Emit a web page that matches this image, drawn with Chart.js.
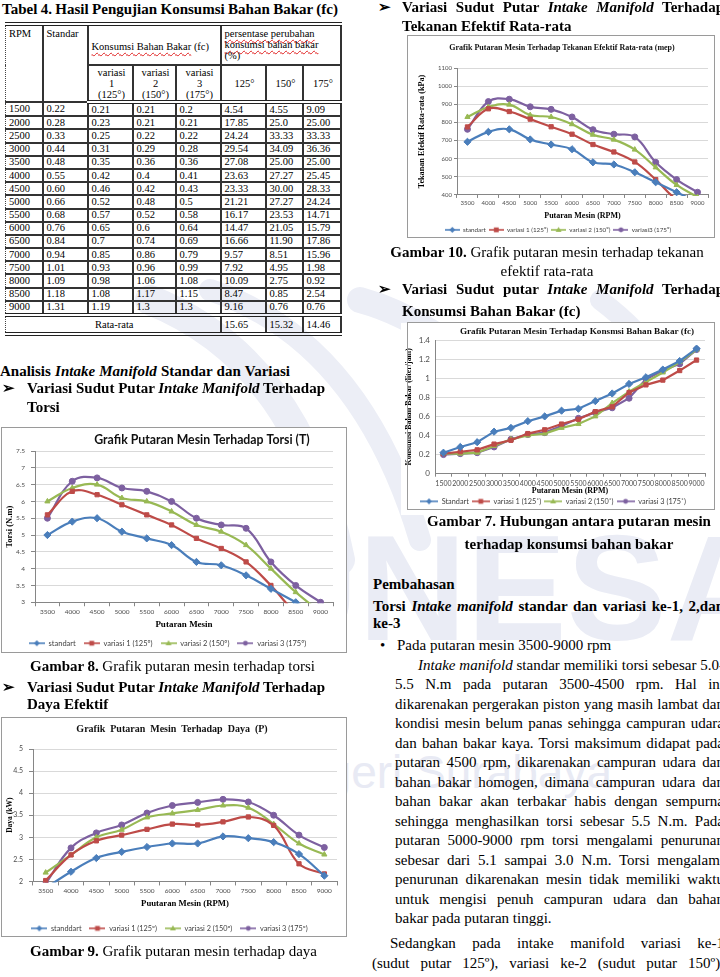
<!DOCTYPE html>
<html>
<head>
<meta charset="utf-8">
<script src="https://cdn.jsdelivr.net/npm/chart.js@4/dist/chart.umd.min.js"></script>
<style>
  html, body { margin: 0; padding: 0; background: #fff; }
  #page { position: relative; width: 720px; height: 977px; overflow: hidden; font-family: "Liberation Serif", "Times New Roman", serif; color: #000; }
  .t { position: absolute; white-space: nowrap; font-size: 15px; line-height: 18px; z-index: 4; }
  .b { font-weight: bold; }
  .c { text-align: center; }
  .wrap { position: absolute; z-index: 2; }
  .wrap canvas { position: absolute; background: #fff; }
  .box { position: absolute; border: 1px solid #9a9a9a; box-sizing: border-box; z-index: 3; pointer-events: none; }
  #wm { position: absolute; left: 0; top: 0; z-index: 0; }
  #tbl { position: absolute; left: 5px; top: 22px; z-index: 4; border-collapse: collapse; table-layout: fixed; font-family: "Liberation Serif", "Times New Roman", serif; font-size: 10.5px; line-height: 11px; color: #000; border-top: 4px double #222; border-bottom: 4px double #222; border-left: 1px dotted #444; }
  #tbl td { border: 2px solid #333; padding: 0 0 0 3px; white-space: nowrap; overflow: hidden; vertical-align: middle; }
  #tbl td:first-child { border-left: 1px dotted #444; }
  #tbl tr.h1 td { height: 36px; vertical-align: top; padding-top: 2px; }
  #tbl tr.h1 td.mid { vertical-align: middle; }
  #tbl tr.h2 td { height: 34px; text-align: center; border-bottom: 4px double #222; }
  #tbl tr.d td { height: 11.2px; line-height: 10px; }
  #tbl tr.avg td { height: 15px; border-top: 4px double #222; }
  #tbl td.cc { text-align: center; }
  .sp { text-decoration: underline wavy #e02020; text-decoration-thickness: 1px; text-underline-offset: 2px; }
</style>
</head>
<body>
<div id="page">
  <svg id="wm" width="720" height="977">
    <g fill="none" stroke="#eceef6" stroke-linecap="round">
      <path d="M150 300 Q 300 360 340 560" stroke-width="30"/>
      <path d="M210 290 Q 360 340 420 540" stroke-width="22"/>
      <path d="M360 300 Q 470 330 560 470" stroke-width="26"/>
      <path d="M600 300 Q 680 360 700 450" stroke-width="20"/>
    </g>
    <text x="250" y="640" font-family="Liberation Sans, sans-serif" font-weight="bold" font-size="150" fill="#eaecf5">UNESA</text>
    <text x="612" y="788" text-anchor="end" font-family="Liberation Sans, sans-serif" font-size="46" fill="#e8eaf4">Universitas Negeri Surabaya</text>
  </svg>

  <!-- left column -->
  <div class="t b" style="left:2px;top:0px" data-w="336">Tabel 4. Hasil Pengujian Konsumsi Bahan Bakar (fc)</div>
  <table id="tbl"></table>

  <div class="t b" style="left:0px;top:362px" data-w="290">Analisis <i>Intake Manifold</i> Standar dan Variasi</div>
  <div class="t b" style="left:2px;top:379px">&#10146;</div>
  <div class="t b" style="left:27px;top:379px" data-w="298">Variasi Sudut Putar <i>Intake Manifold</i> Terhadap</div>
  <div class="t b" style="left:27px;top:398px">Torsi</div>

  <div class="wrap" style="left:2px;top:428px"><canvas id="torsiChart" width="344" height="229" style="left:0;top:0"></canvas></div>
  <div class="box" style="left:1px;top:427px;width:346px;height:226px"></div>

  <div class="t" style="left:30px;top:657px" data-w="285"><b>Gambar 8.</b> Grafik putaran mesin terhadap torsi</div>
  <div class="t b" style="left:2px;top:678px">&#10146;</div>
  <div class="t b" style="left:27px;top:678px" data-w="298">Variasi Sudut Putar <i>Intake Manifold</i> Terhadap</div>
  <div class="t b" style="left:27px;top:695px">Daya Efektif</div>

  <div class="wrap" style="left:2px;top:718px"><canvas id="dayaChart" width="344" height="224" style="left:0;top:0"></canvas></div>
  <div class="box" style="left:1px;top:717px;width:346px;height:220px"></div>

  <div class="t" style="left:30px;top:942px" data-w="287"><b>Gambar 9.</b> Grafik putaran mesin terhadap daya</div>

  <!-- right column -->
  <div class="t b" style="left:378px;top:-2px">&#10146;</div>
  <div class="t b" style="left:402px;top:-2px" data-w="322">Variasi Sudut Putar <i>Intake Manifold</i> Terhadap</div>
  <div class="t b" style="left:402px;top:17px">Tekanan Efektif Rata-rata</div>

  <div class="wrap" style="left:408px;top:36px"><canvas id="mepChart" width="306" height="207" style="left:0;top:0"></canvas></div>
  <div class="box" style="left:407px;top:35px;width:308px;height:203px"></div>

  <div class="t c" style="left:372px;top:243px;width:350px"><b>Gambar 10.</b> Grafik putaran mesin terhadap tekanan</div>
  <div class="t c" style="left:372px;top:262px;width:350px">efektif rata-rata</div>
  <div class="t b" style="left:378px;top:280px">&#10146;</div>
  <div class="t b" style="left:402px;top:280px" data-w="322">Variasi Sudut putar <i>Intake Manifold</i> Terhadap</div>
  <div class="t b" style="left:402px;top:302px">Konsumsi Bahan Bakar (fc)</div>

  <div class="wrap" style="left:401px;top:323px"><canvas id="fcChart" width="314" height="192" style="left:0;top:0"></canvas></div>
  <div class="box" style="left:407px;top:322px;width:308px;height:188px"></div>

  <div class="t b c" style="left:394px;top:512px;width:350px">Gambar 7. Hubungan antara putaran mesin</div>
  <div class="t b c" style="left:394px;top:535px;width:350px">terhadap konsumsi bahan bakar</div>

  <div class="t b" style="left:373px;top:575px">Pembahasan</div>
  <div class="t b" style="left:373px;top:597px" data-w="351">Torsi <i>Intake manifold</i> standar dan variasi ke-1, 2,dan</div>
  <div class="t b" style="left:373px;top:614px">ke-3</div>
  <div class="t" style="left:380px;top:636px">&#8226;</div>
  <div class="t" style="left:397px;top:636px">Pada putaran mesin 3500-9000 rpm</div>

  <div class="t" style="left:418px;top:655.5px" data-w="306"><i>Intake manifold</i> standar memiliki torsi sebesar 5.0-</div>
  <div class="t" style="left:395px;top:675px" data-w="329">5.5 N.m pada putaran 3500-4500 rpm. Hal ini</div>
  <div class="t" style="left:395px;top:694.5px" data-w="329">dikarenakan pergerakan piston yang masih lambat dan</div>
  <div class="t" style="left:395px;top:714px" data-w="329">kondisi mesin belum panas sehingga campuran udara</div>
  <div class="t" style="left:395px;top:733.5px" data-w="329">dan bahan bakar kaya. Torsi maksimum didapat pada</div>
  <div class="t" style="left:395px;top:753px" data-w="329">putaran 4500 rpm, dikarenakan campuran udara dan</div>
  <div class="t" style="left:395px;top:772.5px" data-w="329">bahan bakar homogen, dimana campuran udara dan</div>
  <div class="t" style="left:395px;top:792px" data-w="329">bahan bakar akan terbakar habis dengan sempurna</div>
  <div class="t" style="left:395px;top:811.5px" data-w="329">sehingga menghasilkan torsi sebesar 5.5 N.m. Pada</div>
  <div class="t" style="left:395px;top:831px" data-w="329">putaran 5000-9000 rpm torsi mengalami penurunan</div>
  <div class="t" style="left:395px;top:850.5px" data-w="329">sebesar dari 5.1 sampai 3.0 N.m. Torsi mengalami</div>
  <div class="t" style="left:395px;top:870px" data-w="329">penurunan dikarenakan mesin tidak memiliki waktu</div>
  <div class="t" style="left:395px;top:889.5px" data-w="329">untuk mengisi penuh campuran udara dan bahan</div>
  <div class="t" style="left:395px;top:909px">bakar pada putaran tinggi.</div>
  <div class="t" style="left:390px;top:933.5px" data-w="334">Sedangkan pada intake manifold variasi ke-1</div>
  <div class="t" style="left:372px;top:953.5px" data-w="352">(sudut putar 125º), variasi ke-2 (sudut putar 150º),</div>
</div>

<script>
// ---- Tabel 4: konsumsi bahan bakar (fc) ----
const rpmTable = ["1500", "2000", "2500", "3000", "3500", "4000", "4500", "5000", "5500", "6000", "6500", "7000", "7500", "8000", "8500", "9000"]
const fcStandar = ["0.22", "0.28", "0.33", "0.44", "0.48", "0.55", "0.60", "0.66", "0.68", "0.76", "0.84", "0.94", "1.01", "1.09", "1.18", "1.31"]
const fcVar1 = ["0.21", "0.23", "0.25", "0.31", "0.35", "0.42", "0.46", "0.52", "0.57", "0.65", "0.7", "0.85", "0.93", "0.98", "1.08", "1.19"]
const fcVar2 = ["0.21", "0.21", "0.22", "0.29", "0.36", "0.4", "0.42", "0.48", "0.52", "0.6", "0.74", "0.86", "0.96", "1.06", "1.17", "1.3"]
const fcVar3 = ["0.2", "0.21", "0.22", "0.28", "0.36", "0.41", "0.43", "0.5", "0.58", "0.64", "0.69", "0.79", "0.99", "1.08", "1.15", "1.3"]
const pct125 = ["4.54", "17.85", "24.24", "29.54", "27.08", "23.63", "23.33", "21.21", "16.17", "14.47", "16.66", "9.57", "7.92", "10.09", "8.47", "9.16"]
const pct150 = ["4.55", "25.0", "33.33", "34.09", "25.00", "27.27", "30.00", "27.27", "23.53", "21.05", "11.90", "8.51", "4.95", "2.75", "0.85", "0.76"]
const pct175 = ["9.09", "25.00", "33.33", "36.36", "25.00", "25.45", "28.33", "24.24", "14.71", "15.79", "17.86", "15.96", "1.98", "0.92", "2.54", "0.76"]
const pctAverage = ["15.65", "15.32", "14.46"]

// ---- Grafik 3500-9000 rpm ----
const rpmHigh = ["3500", "4000", "4500", "5000", "5500", "6000", "6500", "7000", "7500", "8000", "8500", "9000"]

const torsiStd = [5.0, 5.4, 5.5, 5.1, 4.9, 4.7, 4.2, 4.1, 3.8, 3.4, 3.0, 2.6]
const torsiVar1 = [5.6, 6.3, 6.2, 5.9, 5.6, 5.3, 4.9, 4.6, 4.2, 3.5, 2.7, 2.3]
const torsiVar2 = [6.0, 6.4, 6.5, 6.1, 6.0, 5.7, 5.3, 5.1, 4.7, 4.0, 3.3, 2.7]
const torsiVar3 = [5.5, 6.6, 6.7, 6.4, 6.3, 6.0, 5.5, 5.3, 5.2, 4.2, 3.5, 3.0]

const dayaStd = [1.85, 2.22, 2.53, 2.67, 2.78, 2.86, 2.86, 3.02, 2.98, 2.89, 2.62, 2.13]
const dayaVar1 = [2.02, 2.6, 2.92, 3.05, 3.18, 3.3, 3.28, 3.35, 3.46, 3.27, 2.4, 2.17]
const dayaVar2 = [2.2, 2.6, 3.0, 3.17, 3.45, 3.54, 3.62, 3.72, 3.67, 3.3, 2.86, 2.61]
const dayaVar3 = [1.95, 2.76, 3.1, 3.28, 3.55, 3.72, 3.79, 3.86, 3.8, 3.5, 3.05, 2.77]

const mepStd = [693, 748, 762, 706, 678, 652, 580, 568, 525, 470, 415, 360]
const mepVar1 = [775, 875, 860, 818, 776, 735, 678, 637, 582, 485, 375, 330]
const mepVar2 = [830, 885, 898, 840, 830, 790, 732, 705, 650, 552, 455, 388]
const mepVar3 = [762, 915, 928, 886, 872, 830, 760, 735, 720, 580, 485, 415]

const namesTorsi = ["standart", "variasi 1 (125º)", "variasi 2 (150º)", "variasi 3 (175º)"]
const namesDaya = ["standdart", "variasi 1 (125º)", "variasi 2 (150º)", "variasi 3 (175º)"]
const namesMep = ["standart", "variasi 1 (125º)", "variasi 2 (150º)", "variasi3 (175º)"]
const namesFc = ["Standart", "variasi 1 (125˚)", "variasi 2 (150˚)", "variasi 3 (175˚)"]

const seriesColors = ["#4a7ebb", "#be4b48", "#98b954", "#7d60a0"]
const seriesPoints = ["rectRot", "rect", "triangle", "circle"]

const sans = "Lato, 'Open Sans', sans-serif"
const serif = "'Liberation Serif', 'Times New Roman', serif"
const axisGray = "#868686"
const gridGray = "#d9d9d9"
const tickGray = "#4d4d4d"

/**
 * Builds Tabel 4 from the arrays above
 */
const buildTable = () => {
  const colW = [37, 45, 45, 43, 45, 45, 37, 38]
  let html = "<colgroup>" + colW.map((w) => `<col style="width:${w}px">`).join("") + "</colgroup>"
  html += `<tr class="h1"><td rowspan="2">RPM</td><td rowspan="2">Standar</td>` +
    `<td colspan="3" class="mid"><span class="sp">Konsumsi Bahan Bakar</span> (fc)</td>` +
    `<td colspan="3"><span class="sp">persentase perubahan</span><br><span class="sp">konsumsi bahan bakar</span><br>(%)</td></tr>`
  html += `<tr class="h2"><td>variasi<br>1<br>(125°)</td><td>variasi<br>2<br>(150°)</td><td>variasi<br>3<br>(175°)</td>` +
    `<td>125°</td><td>150°</td><td>175°</td></tr>`
  rpmTable.forEach((rpm, i) => {
    const cells = [rpm, fcStandar[i], fcVar1[i], fcVar2[i], fcVar3[i], pct125[i], pct150[i], pct175[i]]
    html += `<tr class="d">${cells.map((v) => `<td>${v}</td>`).join("")}</tr>`
  })
  html += `<tr class="avg"><td colspan="5" class="cc">Rata-rata</td>${pctAverage.map((v) => `<td>${v}</td>`).join("")}</tr>`
  document.getElementById("tbl").innerHTML = html
}

/**
 * Spreads the words of a line so it spans its measured width
 */
const justifyLines = () => {
  document.querySelectorAll("[data-w]").forEach((el) => {
    const gaps = (el.textContent.match(/ /g) || []).length
    if (!gaps) return
    const extra = Number(el.dataset.w) - el.getBoundingClientRect().width
    el.style.wordSpacing = extra / gaps + "px"
  })
}

// legend sample: a short line with the series marker in the middle
const drawMarker = (g, style, x, y, r) => {
  g.beginPath()
  if (style === "rectRot") {
    g.moveTo(x, y - r); g.lineTo(x + r, y); g.lineTo(x, y + r); g.lineTo(x - r, y); g.closePath()
  } else if (style === "rect") {
    g.rect(x - r * 0.8, y - r * 0.8, r * 1.6, r * 1.6)
  } else if (style === "triangle") {
    g.moveTo(x, y - r); g.lineTo(x + r, y + r * 0.7); g.lineTo(x - r, y + r * 0.7); g.closePath()
  } else {
    g.arc(x, y, r * 0.8, 0, Math.PI * 2)
  }
  g.fill()
}

const makeIcon = (color, style, w) => {
  const c = document.createElement("canvas")
  c.width = w
  c.height = 8
  const g = c.getContext("2d")
  g.strokeStyle = color
  g.fillStyle = color
  g.lineWidth = 1.6
  g.beginPath()
  g.moveTo(0, 4)
  g.lineTo(w, 4)
  g.stroke()
  drawMarker(g, style, w / 2, 4, 3)
  return c
}

// chart title drawn where the original placed it (Excel titles sit off-centre)
const placedTitle = {
  id: "placedTitle",
  afterDraw: (chart, args, opts) => {
    const ctx = chart.ctx
    ctx.save()
    ctx.font = opts.font
    ctx.fillStyle = "#111"
    ctx.textAlign = "center"
    ctx.textBaseline = "middle"
    ctx.fillText(opts.text, opts.x, opts.y)
    ctx.restore()
  },
}

/**
 * Creates one Excel-like line chart
 * @param {string} id - canvas id
 * @param {Object} o - labels, series and layout numbers
 */
const makeChart = (id, o) => {
  const canvas = document.getElementById(id)
  const icons = seriesColors.map((c, i) => makeIcon(c, seriesPoints[i], o.iconW))

  const datasets = o.series.map((data, i) => ({
    label: o.names[i],
    data: data,
    borderColor: seriesColors[i],
    backgroundColor: seriesColors[i],
    borderWidth: 2.2,
    pointStyle: seriesPoints[i],
    pointRadius: i === 0 ? 3.6 : 3,
    pointBorderWidth: 1,
    tension: o.tension,
    clip: 1,
  }))

  return new Chart(canvas.getContext("2d"), {
    type: "line",
    data: {
      labels: o.labels,
      datasets: datasets,
    },
    plugins: [placedTitle],
    options: {
      responsive: false,
      animation: false,
      devicePixelRatio: 1,
      events: [],
      layout: { padding: { left: 0, right: o.padRight, top: o.top, bottom: 0 } },
      plugins: {
        tooltip: { enabled: false },
        title: { display: false },
        placedTitle: { text: o.title, x: o.titleX, y: o.titleY, font: o.titleFont },
        legend: {
          position: "bottom",
          labels: {
            usePointStyle: true,
            pointStyleWidth: o.iconW,
            padding: o.legendPad,
            color: "#404040",
            font: { family: sans, size: o.legendSize },
            generateLabels: (chart) => chart.data.datasets.map((ds, i) => ({
              text: ds.label,
              pointStyle: icons[i],
              datasetIndex: i,
              fontColor: "#404040",
              lineWidth: 0,
              strokeStyle: "rgba(0,0,0,0)",
              fillStyle: "rgba(0,0,0,0)",
              hidden: false,
            })),
          },
        },
      },
      scales: {
        x: {
          offset: true,
          border: { color: axisGray },
          grid: { drawOnChartArea: false, offset: true, tickLength: o.xTickLen, color: axisGray },
          ticks: { font: { family: sans, size: o.xFont }, color: tickGray, padding: o.xPad, maxRotation: 0, minRotation: 0, autoSkip: false },
          title: {
            display: true,
            text: o.xTitle,
            color: "#000",
            font: { family: serif, size: o.xTitleSize, weight: "bold", lineHeight: 1 },
            padding: { top: 0, bottom: o.xTitlePadB },
          },
          afterFit: (s) => { s.height = o.xH },
        },
        y: {
          min: o.yMin,
          max: o.yMax,
          border: { color: axisGray },
          grid: { color: gridGray, tickLength: o.yTickLen, tickColor: axisGray },
          ticks: {
            stepSize: o.yStep,
            font: { family: sans, size: o.yFont },
            color: tickGray,
            padding: o.yPad,
            callback: (v) => String(Number(v.toFixed(2))),
          },
          title: {
            display: true,
            text: o.yTitle,
            color: "#000",
            font: { family: serif, size: o.yTitleSize, weight: "bold", lineHeight: 1.2 },
            padding: { top: o.yTitlePad, bottom: 0 },
          },
          afterFit: (s) => { s.width = o.yW },
        },
      },
    },
  })
}

buildTable()
justifyLines()

makeChart("torsiChart", {
  labels: rpmHigh,
  series: [torsiStd, torsiVar1, torsiVar2, torsiVar3],
  names: namesTorsi,
  tension: 0.4,
  title: "Grafik Putaran Mesin Terhadap Torsi (T)",
  titleFont: "bold 12.3px Lato, sans-serif", titleX: 200, titleY: 12.5, top: 23,
  padRight: 13,
  yMin: 3, yMax: 7.5, yStep: 0.5, yW: 33, yFont: 6.5, yPad: 6, yTickLen: 4,
  yTitle: "Torsi (N.m)", yTitleSize: 8.6, yTitlePad: 2.8,
  xTitle: "Putaran Mesin", xTitleSize: 9, xTitlePadB: 2.7, xH: 29.25, xFont: 6.5, xPad: 1.5, xTickLen: 4,
  legendSize: 7.5, legendPad: 8, iconW: 16,
})

makeChart("dayaChart", {
  labels: rpmHigh,
  series: [dayaStd, dayaVar1, dayaVar2, dayaVar3],
  names: namesDaya,
  tension: 0.4,
  title: "Grafik  Putaran  Mesin  Terhadap  Daya  (P)",
  titleFont: "bold 10px 'Liberation Serif', serif", titleX: 170, titleY: 11, top: 31,
  padRight: 9,
  yMin: 2, yMax: 5, yStep: 0.5, yW: 31, yFont: 7, yPad: 6, yTickLen: 4,
  yTitle: "Daya (kW)", yTitleSize: 7.5, yTitlePad: 4,
  xTitle: "Puutaran Mesin (RPM)", xTitleSize: 8.7, xTitlePadB: 8.9, xH: 35.25, xFont: 6.5, xPad: 1.5, xTickLen: 4,
  legendSize: 7.3, legendPad: 8, iconW: 16,
})

makeChart("mepChart", {
  labels: rpmHigh,
  series: [mepStd, mepVar1, mepVar2, mepVar3],
  names: namesMep,
  tension: 0.4,
  title: "Grafik Putaran Mesin Terhadap Tekanan Efektif Rata-rata (mep)",
  titleFont: "bold 8px 'Liberation Serif', serif", titleX: 154, titleY: 12, top: 32,
  padRight: 6,
  yMin: 400, yMax: 1100, yStep: 100, yW: 49, yFont: 6, yPad: 2, yTickLen: 3,
  yTitle: "Tekanan Efektif Rata-rata (kPa)", yTitleSize: 8.2, yTitlePad: 9,
  xTitle: "Putaran Mesin (RPM)", xTitleSize: 8, xTitlePadB: 3.75, xH: 28.75, xFont: 6, xPad: 2, xTickLen: 3,
  legendSize: 6.3, legendPad: 3, iconW: 15,
})

makeChart("fcChart", {
  labels: rpmTable,
  series: [fcStandar, fcVar1, fcVar2, fcVar3].map((col) => col.map(Number)),
  names: namesFc,
  tension: 0,
  title: "Grafik Putaran Mesin Terhadap Konsmsi Bahan Bakar (fc)",
  titleFont: "bold 9.2px 'Liberation Serif', serif", titleX: 176, titleY: 9, top: 17,
  padRight: 10,
  yMin: 0, yMax: 1.4, yStep: 0.2, yW: 34, yFont: 8, yPad: 5, yTickLen: 0,
  yTitle: "Konsumsi Bahan Bakar (liter/jam)", yTitleSize: 7.9, yTitlePad: 3,
  xTitle: "Putaran Mesin (RPM)", xTitleSize: 8, xTitlePadB: 0, xH: 21, xFont: 7, xPad: 3, xTickLen: 3,
  legendSize: 7.3, legendPad: 3, iconW: 18,
})
</script>
</body>
</html>
